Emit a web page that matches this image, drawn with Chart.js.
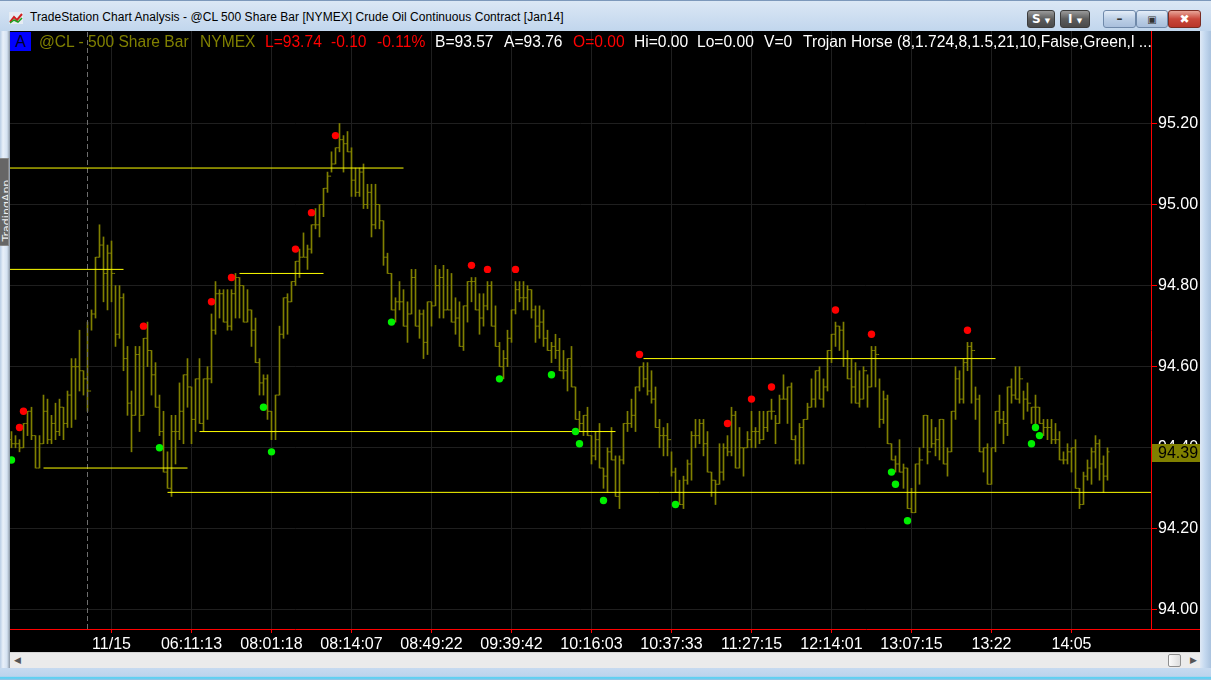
<!DOCTYPE html>
<html>
<head>
<meta charset="utf-8">
<title>TradeStation Chart Analysis</title>
<script src="https://cdn.jsdelivr.net/npm/chart.js@4.4.1/dist/chart.umd.min.js"></script>
<style>
  html, body { margin: 0; padding: 0; }
  body { width: 1211px; height: 680px; position: relative; overflow: hidden; background: #c6daf0;
         font-family: 'Liberation Sans', Arial, sans-serif; }
  #titlebar { position: absolute; left: 0; top: 0; width: 1211px; height: 31px;
              background: linear-gradient(#dbe7f5, #c1d6ed); border-top: 1px solid #7d98bb; box-sizing: border-box; }
  #titlebar .txt { position: absolute; left: 30px; top: 9px; font: 12px 'Liberation Sans', Arial, sans-serif;
                   letter-spacing: 0.05px; color: #000; }
  #titlebar .icon { position: absolute; left: 9px; top: 11px; width: 14px; height: 12px; }
  .tbtn { position: absolute; top: 9px; height: 18px; border-radius: 3px; box-sizing: border-box; color: #fff;
          font: bold 12px 'DejaVu Sans', sans-serif; text-align: center; line-height: 17px; }
  .dark { background: linear-gradient(#9a9a9a, #5c5c5c 50%, #4a4a4a); border: 1px solid #3c3c3c; }
  .win { background: linear-gradient(#e4edf8, #bccfe6 50%, #a9bfdc); border: 1px solid #6f89aa; color: #333; }
  .close { background: linear-gradient(#e8a598, #c9473a 50%, #b8352a); border: 1px solid #7a2b22; }
  #leftedge { position: absolute; left: 0; top: 31px; width: 10px; height: 637px;
              background: linear-gradient(90deg, #b9cee6, #e9f0f9 30%, #d4e2f2 70%, #8a96a4); }
  #tab { position: absolute; left: 0; top: 158px; width: 9px; height: 88px; background: #666;
         border: 1px solid #888; border-left: none; box-sizing: border-box; overflow: hidden; }
  #tab span { position: absolute; left: -34px; top: 36px; width: 80px; transform: rotate(-90deg);
              font: 11px 'DejaVu Sans', sans-serif; color: #eee; white-space: nowrap; }
  #rightedge { position: absolute; left: 1200px; top: 31px; width: 11px; height: 649px;
               background: linear-gradient(90deg, #dfe9f5, #c6daf0 40%, #aac3df); }
  #wrap { position: absolute; left: 10px; top: 31px; width: 1190px; height: 621px; background: #000; }
  #hdr span { position: absolute; top: 33px; font-size: 15.6px; line-height: 18px; white-space: nowrap; }
  #abox { position: absolute; left: 10px; top: 32px; width: 21px; height: 19px; background: #0000ff;
          color: #000028; font-size: 16px; line-height: 19px; text-align: center; }
  #scroll { position: absolute; left: 10px; top: 652px; width: 1190px; height: 16px; background: #ebebeb;
            border-top: 1px solid #d6d6d6; box-sizing: border-box; }
  #scroll .arr { position: absolute; top: 0; font-size: 9px; color: #555; line-height: 15px; }
  #thumb { position: absolute; left: 1158px; top: 1px; width: 13px; height: 13px; border: 1px solid #8f8f8f;
           border-radius: 2px; background: linear-gradient(90deg, #fbfbfb, #dedede); box-sizing: border-box; }
  #bottomedge { position: absolute; left: 0; top: 668px; width: 1211px; height: 12px;
                background: linear-gradient(#c6daf0, #bcd3ec 70%, #5fd0f2 75%, #5fd0f2 85%, #9fc0e0); }
</style>
</head>
<body>
<div id="titlebar">
  <svg class="icon" viewBox="0 0 14 12"><rect width="14" height="12" fill="#e6ecf3"/><polyline points="1,10 5,5 8,8 13,2" fill="none" stroke="#d02020" stroke-width="2"/><polyline points="1,11 5,8 9,10 13,6" fill="none" stroke="#20a020" stroke-width="1.5"/></svg>
  <span class="txt">TradeStation Chart Analysis - @CL 500 Share Bar [NYMEX] Crude Oil Continuous Contract [Jan14]</span>
  <div class="tbtn dark" style="left:1027px;width:28px;">S <span style="font-size:7px">&#9660;</span></div>
  <div class="tbtn dark" style="left:1060px;width:30px;">I <span style="font-size:7px">&#9660;</span></div>
  <div class="tbtn win" style="left:1103px;width:33px;">&#8211;</div>
  <div class="tbtn win" style="left:1136px;width:32px;font-size:10px;">&#9635;</div>
  <div class="tbtn close" style="left:1168px;width:33px;">&#10006;</div>
</div>
<div id="leftedge"></div>
<div id="tab"><span>TradingApp</span></div>
<div id="rightedge"></div>
<div id="wrap"><canvas id="chart" width="1190" height="621"></canvas></div>
<div id="hdr">
  <div id="abox">A</div>
  <span style="left:39px;color:#808000">@CL - 500 Share Bar</span>
  <span style="left:200px;color:#808000">NYMEX</span>
  <span style="left:265px;color:#ff0000">L=93.74</span>
  <span style="left:331px;color:#ff0000">-0.10</span>
  <span style="left:377px;color:#ff0000">-0.11%</span>
  <span style="left:435px;color:#ffffff">B=93.57</span>
  <span style="left:504px;color:#ffffff">A=93.76</span>
  <span style="left:573px;color:#ff0000">O=0.00</span>
  <span style="left:634px;color:#ffffff">Hi=0.00</span>
  <span style="left:697px;color:#ffffff">Lo=0.00</span>
  <span style="left:764px;color:#ffffff">V=0</span>
  <span style="left:803px;color:#ffffff">Trojan Horse (8,1.724,8,1.5,21,10,False,Green,l ...</span>
</div>
<div id="scroll">
  <span class="arr" style="left:4px">&#9664;</span>
  <span class="arr" style="left:1180px">&#9654;</span>
  <div id="thumb"></div>
</div>
<div id="bottomedge"></div>

<script>
// 500-share bars, one per index
const highs = [
  94.44,94.43,94.42,94.46,94.49,94.50,94.43,94.43,94.53,94.52,
  94.48,94.51,94.52,94.50,94.54,94.62,94.62,94.69,94.59,94.71,
  94.74,94.87,94.95,94.92,94.90,94.91,94.80,94.80,94.78,94.65,
  94.54,94.65,94.65,94.67,94.71,94.64,94.61,94.53,94.49,94.39,
  94.48,94.48,94.56,94.58,94.62,94.55,94.57,94.62,94.57,94.60,
  94.73,94.81,94.79,94.79,94.79,94.79,94.83,94.82,94.80,94.79,
  94.74,94.72,94.62,94.58,94.58,94.49,94.53,94.70,94.77,94.78,
  94.81,94.86,94.89,94.93,94.90,94.95,94.99,95.00,95.04,95.08,
  95.13,95.14,95.20,95.17,95.18,95.14,95.09,95.09,95.10,95.05,
  95.05,95.05,95.00,94.96,94.88,94.83,94.77,94.81,94.79,94.76,
  94.84,94.84,94.74,94.74,94.76,94.76,94.85,94.84,94.85,94.84,
  94.83,94.77,94.76,94.75,94.81,94.82,94.82,94.78,94.78,94.81,
  94.81,94.75,94.66,94.64,94.69,94.74,94.81,94.81,94.81,94.80,
  94.79,94.75,94.75,94.74,94.69,94.66,94.68,94.67,94.64,94.62,
  94.65,94.55,94.49,94.48,94.50,94.43,94.44,94.46,94.35,94.40,
  94.45,94.38,94.38,94.46,94.49,94.52,94.55,94.60,94.61,94.61,
  94.59,94.55,94.47,94.45,94.46,94.39,94.35,94.32,94.33,94.37,
  94.44,94.47,94.47,94.47,94.44,94.34,94.32,94.41,94.41,94.43,
  94.50,94.49,94.45,94.40,94.44,94.49,94.45,94.49,94.49,94.49,
  94.52,94.48,94.53,94.58,94.55,94.56,94.43,94.46,94.47,94.51,
  94.57,94.59,94.60,94.57,94.64,94.68,94.71,94.70,94.71,94.64,
  94.62,94.61,94.59,94.60,94.58,94.65,94.65,94.57,94.54,94.53,
  94.41,94.38,94.42,94.36,94.35,94.30,94.36,94.40,94.48,94.48,
  94.47,94.45,94.47,94.47,94.40,94.49,94.60,94.59,94.62,94.66,
  94.66,94.55,94.53,94.40,94.41,94.40,94.49,94.53,94.49,94.55,
  94.57,94.60,94.60,94.54,94.56,94.50,94.53,94.50,94.47,94.47,
  94.47,94.46,94.44,94.39,94.41,94.40,94.42,94.30,94.34,94.37,
  94.40,94.43,94.42,94.38,94.40
];
const lows = [
  94.40,94.40,94.39,94.40,94.43,94.42,94.35,94.35,94.41,94.41,
  94.41,94.42,94.43,94.42,94.45,94.45,94.47,94.54,94.53,94.49,
  94.69,94.72,94.87,94.76,94.74,94.76,94.65,94.67,94.59,94.48,
  94.39,94.48,94.44,94.48,94.60,94.53,94.50,94.43,94.34,94.30,
  94.28,94.36,94.42,94.41,94.50,94.41,94.44,94.46,94.44,94.47,
  94.56,94.68,94.72,94.71,94.69,94.69,94.72,94.72,94.71,94.71,
  94.65,94.61,94.53,94.53,94.47,94.42,94.42,94.53,94.67,94.68,
  94.76,94.80,94.82,94.87,94.84,94.88,94.94,94.92,94.97,95.03,
  95.08,95.10,95.13,95.08,95.13,95.02,95.02,95.02,94.99,94.99,
  94.92,94.94,94.94,94.85,94.83,94.74,94.71,94.74,94.70,94.66,
  94.73,94.70,94.67,94.62,94.63,94.70,94.75,94.72,94.72,94.74,
  94.71,94.68,94.65,94.64,94.71,94.76,94.74,94.68,94.70,94.74,
  94.70,94.65,94.60,94.57,94.60,94.66,94.73,94.76,94.74,94.74,
  94.72,94.66,94.67,94.65,94.64,94.61,94.62,94.59,94.57,94.54,
  94.55,94.47,94.44,94.43,94.43,94.36,94.37,94.35,94.30,94.29,
  94.37,94.28,94.25,94.36,94.44,94.45,94.44,94.54,94.55,94.53,
  94.51,94.45,94.40,94.38,94.38,94.33,94.29,94.26,94.25,94.31,
  94.32,94.40,94.41,94.38,94.34,94.28,94.26,94.31,94.32,94.38,
  94.38,94.35,94.35,94.33,94.40,94.40,94.40,94.41,94.42,94.44,
  94.47,94.41,94.46,94.52,94.46,94.42,94.36,94.36,94.36,94.47,
  94.50,94.50,94.52,94.50,94.54,94.61,94.65,94.64,94.60,94.57,
  94.51,94.51,94.50,94.52,94.50,94.55,94.55,94.45,94.46,94.41,
  94.37,94.34,94.34,94.30,94.25,94.24,94.24,94.31,94.40,94.36,
  94.40,94.38,94.37,94.36,94.33,94.39,94.47,94.51,94.51,94.59,
  94.51,94.47,94.39,94.34,94.31,94.31,94.39,94.46,94.41,94.43,
  94.51,94.52,94.51,94.47,94.49,94.46,94.45,94.46,94.43,94.42,
  94.41,94.41,94.37,94.36,94.36,94.34,94.30,94.25,94.26,94.32,
  94.31,94.35,94.32,94.29,94.32
];
const opens = [
  94.42,94.41,94.41,94.40,94.46,94.49,94.43,94.35,94.41,94.49,
  94.42,94.46,94.44,94.50,94.46,94.53,94.60,94.60,94.59,94.57,
  94.54,94.73,94.87,94.90,94.83,94.88,94.83,94.68,94.77,94.62,
  94.51,94.48,94.63,94.48,94.67,94.64,94.58,94.50,94.44,94.34,
  94.30,94.44,94.44,94.49,94.58,94.55,94.47,94.57,94.46,94.57,
  94.57,94.69,94.78,94.78,94.71,94.70,94.78,94.82,94.80,94.71,
  94.74,94.69,94.61,94.56,94.57,94.49,94.44,94.53,94.68,94.77,
  94.76,94.81,94.86,94.87,94.87,94.89,94.95,94.95,95.00,95.04,
  95.07,95.10,95.14,95.16,95.15,95.13,95.06,95.03,95.08,95.00,
  95.03,94.95,95.00,94.96,94.87,94.83,94.74,94.76,94.76,94.70,
  94.73,94.82,94.70,94.73,94.66,94.76,94.75,94.80,94.82,94.74,
  94.74,94.71,94.72,94.65,94.75,94.81,94.81,94.74,94.72,94.75,
  94.80,94.70,94.65,94.60,94.62,94.67,94.74,94.79,94.77,94.77,
  94.79,94.74,94.70,94.71,94.67,94.64,94.65,94.64,94.59,94.59,
  94.62,94.55,94.47,94.46,94.48,94.43,94.38,94.42,94.35,94.33,
  94.39,94.37,94.28,94.37,94.46,94.46,94.48,94.55,94.60,94.57,
  94.54,94.52,94.45,94.43,94.43,94.42,94.34,94.29,94.26,94.32,
  94.36,94.43,94.43,94.46,94.41,94.34,94.32,94.31,94.34,94.40,
  94.39,94.48,94.35,94.40,94.40,94.42,94.44,94.44,94.42,94.45,
  94.49,94.49,94.46,94.52,94.52,94.55,94.42,94.37,94.45,94.47,
  94.50,94.52,94.59,94.52,94.55,94.64,94.68,94.70,94.69,94.62,
  94.57,94.55,94.51,94.52,94.59,94.55,94.64,94.63,94.47,94.52,
  94.41,94.37,94.36,94.34,94.35,94.25,94.24,94.36,94.37,94.48,
  94.39,94.41,94.42,94.47,94.36,94.39,94.49,94.57,94.52,94.61,
  94.65,94.64,94.52,94.39,94.40,94.31,94.40,94.49,94.47,94.46,
  94.55,94.53,94.52,94.57,94.52,94.51,94.50,94.50,94.46,94.45,
  94.45,94.42,94.42,94.37,94.37,94.39,94.40,94.30,94.26,94.33,
  94.35,94.39,94.41,94.36,94.33
];
const closes = [
  94.41,94.41,94.40,94.46,94.49,94.43,94.35,94.41,94.49,94.42,
  94.46,94.44,94.50,94.46,94.53,94.60,94.60,94.59,94.57,94.54,
  94.73,94.87,94.90,94.83,94.88,94.83,94.68,94.77,94.62,94.51,
  94.48,94.63,94.48,94.67,94.64,94.58,94.50,94.44,94.34,94.30,
  94.44,94.44,94.49,94.58,94.55,94.47,94.57,94.46,94.57,94.57,
  94.69,94.78,94.78,94.71,94.70,94.78,94.82,94.80,94.71,94.74,
  94.69,94.61,94.56,94.57,94.49,94.44,94.53,94.68,94.77,94.76,
  94.81,94.86,94.87,94.87,94.89,94.95,94.95,95.00,95.04,95.07,
  95.10,95.14,95.16,95.15,95.13,95.06,95.03,95.08,95.00,95.03,
  94.95,95.00,94.96,94.87,94.83,94.74,94.76,94.76,94.70,94.73,
  94.82,94.70,94.73,94.66,94.76,94.75,94.80,94.82,94.74,94.74,
  94.71,94.72,94.65,94.75,94.81,94.81,94.74,94.72,94.75,94.80,
  94.70,94.65,94.60,94.62,94.67,94.74,94.79,94.77,94.77,94.79,
  94.74,94.70,94.71,94.67,94.64,94.65,94.64,94.59,94.59,94.62,
  94.55,94.47,94.46,94.48,94.43,94.38,94.42,94.35,94.33,94.39,
  94.37,94.28,94.37,94.46,94.46,94.48,94.55,94.60,94.57,94.54,
  94.52,94.45,94.43,94.43,94.42,94.34,94.29,94.26,94.32,94.36,
  94.43,94.43,94.46,94.41,94.34,94.32,94.31,94.34,94.40,94.39,
  94.48,94.35,94.40,94.40,94.42,94.44,94.44,94.42,94.45,94.49,
  94.49,94.46,94.52,94.52,94.55,94.42,94.37,94.45,94.47,94.50,
  94.52,94.59,94.52,94.55,94.64,94.68,94.70,94.69,94.62,94.57,
  94.55,94.51,94.52,94.59,94.55,94.64,94.63,94.47,94.52,94.41,
  94.37,94.36,94.34,94.35,94.25,94.24,94.36,94.37,94.48,94.39,
  94.41,94.42,94.47,94.36,94.39,94.49,94.57,94.52,94.61,94.65,
  94.64,94.52,94.39,94.40,94.31,94.40,94.49,94.47,94.46,94.55,
  94.53,94.52,94.57,94.52,94.51,94.50,94.50,94.46,94.45,94.45,
  94.42,94.42,94.37,94.37,94.39,94.40,94.30,94.26,94.33,94.35,
  94.39,94.41,94.36,94.33,94.39
];

// Trojan Horse indicator dots
const redBars    = [2, 3, 33, 50, 55, 71, 75, 81, 115, 119, 126, 157, 179, 185, 190, 206, 215, 239];
const redPrices  = [94.45, 94.49, 94.70, 94.76, 94.82, 94.89, 94.98, 95.17, 94.85, 94.84, 94.84, 94.63, 94.46, 94.52, 94.55, 94.74, 94.68, 94.69];
const greenBars   = [0, 37, 63, 65, 95, 122, 135, 141, 142, 148, 166, 220, 221, 224, 255, 256, 257];
const greenPrices = [94.37, 94.40, 94.50, 94.39, 94.71, 94.57, 94.58, 94.44, 94.41, 94.27, 94.26, 94.34, 94.31, 94.22, 94.41, 94.45, 94.43];

// support / resistance levels
const levelPrices = [95.09, 94.84, 94.83, 94.44, 94.35, 94.29, 94.62];
const levelFrom   = [-0.4, -0.4, 57, 47, 8, 39, 158];
const levelTo     = [98, 28, 78, 151, 44, 284.9, 246];

const timeTickBars = [25, 45, 65, 85, 105, 125, 145, 165, 185, 205, 225, 245, 265];
const timeLabels = ['11/15', '06:11:13', '08:01:18', '08:14:07', '08:49:22', '09:39:42', '10:16:03',
                    '10:37:33', '11:27:15', '12:14:01', '13:07:15', '13:22', '14:05'];
const priceTicks = [94.00, 94.20, 94.40, 94.60, 94.80, 95.00, 95.20];
const sessionBreakBar = 19;
const lastPrice = 94.39;

const X_MIN = -0.375, X_MAX = 284.875;
const Y_MIN = 93.953, Y_MAX = 95.428;
const OLIVE = '#808000';
const GRID = '#1f1f1f';
const TICK_OFFSET = 0.3;

Chart.defaults.font.family = "'Liberation Sans', Arial, sans-serif";

const idx = highs.map((_, i) => i);

const levelSets = levelPrices.map((p, k) => ({
  type: 'line',
  data: [{ x: levelFrom[k], y: p }, { x: levelTo[k], y: p }],
  borderColor: '#ffff00', borderWidth: 1, pointRadius: 0, order: 3
}));

const lastPriceTag = {
  id: 'lastPriceTag',
  afterDraw(chart) {
    const { ctx, chartArea, scales: { y } } = chart;
    const py = Math.round(y.getPixelForValue(lastPrice));
    ctx.save();
    // red axis line continues under the price scale
    ctx.strokeStyle = '#ff0000';
    ctx.beginPath();
    ctx.moveTo(chartArea.right, chartArea.bottom + 0.5);
    ctx.lineTo(chart.width, chartArea.bottom + 0.5);
    ctx.stroke();
    ctx.fillStyle = OLIVE;
    ctx.fillRect(chartArea.right + 1, py - 8, chart.width - chartArea.right - 1, 18);
    ctx.fillStyle = '#000';
    ctx.font = "16px 'Liberation Sans', Arial, sans-serif";
    ctx.textBaseline = 'middle';
    ctx.fillText(lastPrice.toFixed(2), chartArea.right + 7, py + 2);
    ctx.restore();
  }
};

new Chart(document.getElementById('chart'), {
  type: 'bar',
  data: {
    datasets: [
      { type: 'bar', data: idx.map(i => ({ x: i, y: [lows[i], highs[i]] })),
        backgroundColor: OLIVE, barThickness: 1, borderWidth: 0, order: 6 },
      { type: 'scatter', data: idx.map(i => ({ x: i - TICK_OFFSET, y: opens[i] })),
        pointStyle: 'line', pointRadius: 0.8, borderColor: OLIVE, pointBorderColor: OLIVE, pointBorderWidth: 1, order: 5 },
      { type: 'scatter', data: idx.map(i => ({ x: i + TICK_OFFSET, y: closes[i] })),
        pointStyle: 'line', pointRadius: 0.8, borderColor: OLIVE, pointBorderColor: OLIVE, pointBorderWidth: 1, order: 5 },
      { type: 'line', data: [{ x: sessionBreakBar, y: Y_MIN }, { x: sessionBreakBar, y: Y_MAX }],
        borderColor: '#6e6e6e', borderWidth: 1, borderDash: [5, 3], pointRadius: 0, order: 4 },
      ...levelSets,
      { type: 'scatter', data: redBars.map((b, k) => ({ x: b, y: redPrices[k] })),
        pointStyle: 'circle', pointRadius: 3.7, backgroundColor: '#ff0000', borderWidth: 0, order: 1 },
      { type: 'scatter', data: greenBars.map((b, k) => ({ x: b, y: greenPrices[k] })),
        pointStyle: 'circle', pointRadius: 3.7, backgroundColor: '#00f000', borderWidth: 0, order: 1 }
    ]
  },
  options: {
    responsive: false,
    animation: false,
    devicePixelRatio: 1,
    layout: { padding: 0, autoPadding: false },
    plugins: { legend: { display: false }, tooltip: { enabled: false } },
    scales: {
      x: {
        type: 'linear', min: X_MIN, max: X_MAX, offset: false,
        afterBuildTicks: s => { s.ticks = timeTickBars.map(v => ({ value: v })); },
        afterFit: s => { s.height = 23; s.paddingLeft = 0; s.paddingRight = 0; },
        ticks: { color: '#ffffff', font: { size: 16 }, maxRotation: 0, autoSkip: false, padding: 2,
                 callback: (v, i) => timeLabels[i] },
        grid: { color: GRID, offset: false, tickColor: '#ff0000', tickLength: 4 },
        border: { color: '#ff0000', width: 1 }
      },
      y: {
        type: 'linear', position: 'right', min: Y_MIN, max: Y_MAX,
        afterBuildTicks: s => { s.ticks = priceTicks.map(v => ({ value: v })); },
        afterFit: s => { s.width = 49; s.paddingTop = 0; s.paddingBottom = 0; },
        ticks: { color: '#ffffff', font: { size: 16 }, padding: 1, callback: v => v.toFixed(2) },
        grid: { color: GRID, tickColor: '#ff0000', tickLength: 6 },
        border: { color: '#ff0000', width: 1 }
      }
    }
  },
  plugins: [lastPriceTag]
});
</script>
</body>
</html>
